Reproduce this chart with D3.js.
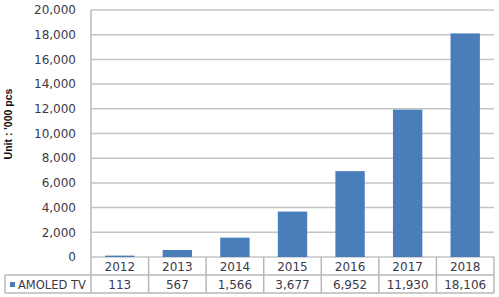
<!DOCTYPE html>
<html>
  <head>
    <meta charset="utf-8" />
    <style>
      body { margin: 0; background: #fff; }
      svg { display: block; font-family: "DejaVu Sans", Verdana, sans-serif; }
    </style>
  </head>
  <body>
    <script src="https://cdn.jsdelivr.net/npm/d3@7/dist/d3.min.js"></script>
    <div id="main"></div>
    <script>
      // chart data
      const years = ["2012", "2013", "2014", "2015", "2016", "2017", "2018"];
      const amoledTv = [113, 567, 1566, 3677, 6952, 11930, 18106];
      const yTicks = [0, 2000, 4000, 6000, 8000, 10000, 12000, 14000, 16000, 18000, 20000];
      const seriesName = "AMOLED TV";
      const unitLabel = "Unit : '000 pcs";

      const W = 499, H = 297;
      const plotL = 91, plotR = 494, plotT = 10, plotB = 257;
      const rowH = 18;
      const txt = "#3a3a4a";

      const svg = d3.select("#main").append("svg")
        .attr("width", W).attr("height", H);

      const x = d3.scaleBand().domain(years).range([plotL, plotR])
        .paddingInner(0.49).paddingOuter(0.245);
      const y = d3.scaleLinear().domain([0, 20000]).range([plotB, plotT]);
      const fmt = d3.format(",");

      // gridlines
      svg.append("g").selectAll("line").data(yTicks).join("line")
        .attr("x1", plotL).attr("x2", plotR)
        .attr("y1", d => y(d)).attr("y2", d => y(d))
        .attr("stroke", "#c4c4c4").attr("stroke-width", 1.5);

      // y tick labels
      svg.append("g").selectAll("text").data(yTicks).join("text")
        .attr("x", 76).attr("y", d => y(d)).attr("dy", "0.35em")
        .attr("text-anchor", "end").attr("font-size", 12).attr("fill", txt)
        .text(d => fmt(d));

      // unit label
      svg.append("text")
        .attr("transform", "translate(11.5,124) rotate(-90)")
        .attr("text-anchor", "middle").attr("font-size", 10.5).attr("font-weight", "bold")
        .attr("font-family", "'Liberation Sans', Arial, sans-serif")
        .attr("fill", "#111").text(unitLabel);

      // bars
      svg.append("g").selectAll("rect").data(amoledTv).join("rect")
        .attr("x", (d, i) => x(years[i]))
        .attr("width", x.bandwidth())
        .attr("y", d => y(d))
        .attr("height", d => y(0) - y(d))
        .attr("fill", "#4a7ebb");

      // data table
      const tbl = svg.append("g").attr("stroke", "#b8b8b8").attr("stroke-width", 1.5).attr("fill", "none");
      const step = x.step();
      const colEdges = d3.range(years.length + 1).map(i => plotL + i * step);
      // horizontal lines
      tbl.append("line").attr("x1", 5).attr("x2", plotR).attr("y1", plotB + rowH).attr("y2", plotB + rowH);
      tbl.append("line").attr("x1", 5).attr("x2", plotR).attr("y1", plotB + 2 * rowH).attr("y2", plotB + 2 * rowH);
      // vertical lines
      tbl.selectAll("line.v").data(colEdges).join("line").attr("class", "v")
        .attr("x1", d => d).attr("x2", d => d)
        .attr("y1", plotB).attr("y2", plotB + 2 * rowH);
      tbl.append("line").attr("x1", 5).attr("x2", 5).attr("y1", plotB + rowH).attr("y2", plotB + 2 * rowH);
      // y axis line
      svg.append("line").attr("x1", plotL).attr("x2", plotL).attr("y1", plotT).attr("y2", plotB)
        .attr("stroke", "#b8b8b8").attr("stroke-width", 1.5);

      svg.append("g").selectAll("text").data(years).join("text")
        .attr("x", d => x(d) + x.bandwidth() / 2).attr("y", plotB + rowH / 2 + 1).attr("dy", "0.35em")
        .attr("text-anchor", "middle").attr("font-size", 12).attr("fill", txt)
        .text(d => d);
      svg.append("g").selectAll("text").data(amoledTv).join("text")
        .attr("x", (d, i) => x(years[i]) + x.bandwidth() / 2).attr("y", plotB + rowH * 1.5 + 1).attr("dy", "0.35em")
        .attr("text-anchor", "middle").attr("font-size", 12).attr("fill", txt)
        .text(d => fmt(d));

      // legend key
      svg.append("rect").attr("x", 10).attr("y", plotB + rowH * 1.5 - 2).attr("width", 5).attr("height", 5)
        .attr("fill", "#4a7ebb");
      svg.append("text").attr("x", 18).attr("y", plotB + rowH * 1.5 + 1).attr("dy", "0.35em")
        .attr("font-size", 11.5).attr("fill", txt).text(seriesName);
    </script>
  </body>
</html>
